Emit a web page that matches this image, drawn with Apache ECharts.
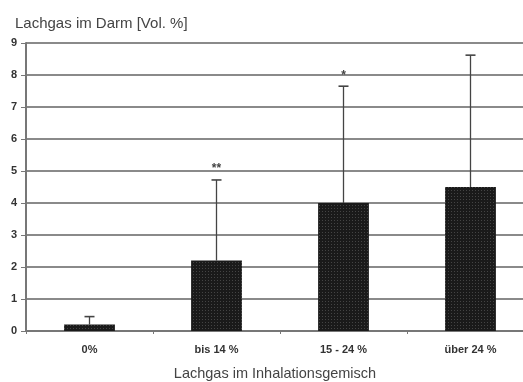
<!DOCTYPE html>
<html><head><meta charset="utf-8">
<script src="https://cdn.jsdelivr.net/npm/echarts@6/dist/echarts.min.js"></script>
<style>html,body{margin:0;padding:0;background:#fff}#c{width:523px;height:382px}</style>
</head><body><div id="c"></div>
<script>
const categories = ['0%', 'bis 14 %', '15 - 24 %', 'über 24 %'];
const means = [0.2, 2.2, 4.0, 4.5];
const errorTops = [0.45, 4.72, 7.65, 8.62];
const marks = ['', '**', '*', ''];
const yTicks = [0, 1, 2, 3, 4, 5, 6, 7, 8, 9];

function makePattern() {
  const cv = document.createElement('canvas');
  cv.width = 3; cv.height = 3;
  const ctx = cv.getContext('2d');
  ctx.fillStyle = '#1a1a1a'; ctx.fillRect(0, 0, 3, 3);
  ctx.fillStyle = '#444'; ctx.fillRect(1, 1, 1, 1);
  return cv;
}

const chart = echarts.init(document.getElementById('c'));
chart.setOption({
  animation: false,
  title: {
    text: 'Lachgas im Darm [Vol. %]', left: 10, top: 11,
    textStyle: { fontFamily: 'Arial, Liberation Sans', fontSize: 15, fontWeight: 'normal', color: '#444' }
  },
  grid: { left: 26, top: 43, width: 508, height: 288, containLabel: false, outerBoundsMode: 'none' },
  xAxis: {
    type: 'category', data: categories,
    name: 'Lachgas im Inhalationsgemisch', nameLocation: 'middle', nameGap: 35,
    nameTextStyle: { fontFamily: 'Arial, Liberation Sans', fontSize: 14.5, color: '#444', padding: [0, 10, 0, 0] },
    axisLine: { lineStyle: { color: '#777', width: 2 } },
    axisTick: { show: true, length: 3, lineStyle: { color: '#777' } },
    axisLabel: { fontFamily: 'Arial, Liberation Sans', fontSize: 11, fontWeight: 'bold', color: '#333', margin: 13 }
  },
  yAxis: {
    type: 'value', min: 0, max: 9, interval: 1,
    axisLine: { show: true, lineStyle: { color: '#777', width: 2 } },
    axisTick: { show: true, length: 5, lineStyle: { color: '#777' } },
    axisLabel: { fontFamily: 'Arial, Liberation Sans', fontSize: 11, fontWeight: 'bold', color: '#333', margin: 9,
      formatter: v => yTicks.includes(v) ? String(v) : '' },
    splitLine: { lineStyle: { color: '#8a8a8a', width: 2 } }
  },
  series: [
    {
      type: 'bar', data: means, barWidth: '40%',
      itemStyle: { color: { image: makePattern(), repeat: 'repeat' } }
    },
    {
      type: 'custom',
      data: categories.map((c, i) => [i, means[i], errorTops[i]]),
      renderItem: function (params, api) {
        const x = api.value(0);
        const p0 = api.coord([x, api.value(1)]);
        const p1 = api.coord([x, api.value(2)]);
        const i = params.dataIndex;
        const children = [
          { type: 'line', shape: { x1: p0[0], y1: p0[1], x2: p1[0], y2: p1[1] }, style: { stroke: '#444', lineWidth: 1.3 } },
          { type: 'line', shape: { x1: p1[0] - 5, y1: p1[1], x2: p1[0] + 5, y2: p1[1] }, style: { stroke: '#444', lineWidth: 1.6 } }
        ];
        if (marks[i]) {
          children.push({ type: 'text', style: { text: marks[i], x: p1[0], y: p1[1] - 11, align: 'center', verticalAlign: 'middle',
            font: 'bold 12px Arial, Liberation Sans', fill: '#444' } });
        }
        return { type: 'group', children };
      },
      z: 5
    }
  ]
});
</script></body></html>
